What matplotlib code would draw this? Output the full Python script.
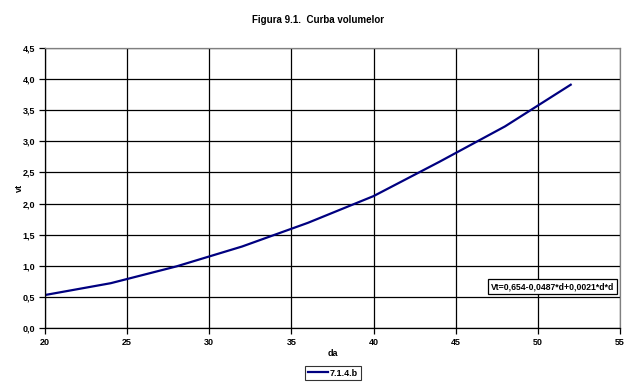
import matplotlib
matplotlib.use("Agg")
import matplotlib.pyplot as plt
from matplotlib.ticker import MultipleLocator, FuncFormatter

d_values = [20, 24, 28, 32, 36, 40, 44, 48, 52]
vt_values = [0.53, 0.72, 0.99, 1.31, 1.69, 2.12, 2.67, 3.24, 3.91]
series_label = "7.1.4.b"
title = "Figura 9.1.  Curba volumelor"
equation = "Vt=0,654-0,0487*d+0,0021*d*d"

plt.rcParams['font.family'] = ['Liberation Sans', 'DejaVu Sans']
plt.rcParams['font.weight'] = 'bold'

fig = plt.figure(figsize=(6.37, 3.9), dpi=100)
W, H = 637, 390
ax = fig.add_axes([45 / W, 1 - 328 / H, (620 - 45) / W, (328 - 48) / H])

ax.plot(d_values, vt_values, color='#000080', lw=1.6, label=series_label)
ax.set_xlim(20, 55)
ax.set_ylim(0, 4.5)
ax.xaxis.set_major_locator(MultipleLocator(5))
ax.yaxis.set_major_locator(MultipleLocator(0.5))
ax.yaxis.set_major_formatter(FuncFormatter(lambda v, p: f"{v:.1f}".replace('.', ',')))
ax.grid(True, color='black', lw=0.9)
ax.set_axisbelow(True)
for s in ['top', 'right']:
    ax.spines[s].set_color('#808080')
    ax.spines[s].set_linewidth(0.9)
for s in ['left', 'bottom']:
    ax.spines[s].set_color('black')
    ax.spines[s].set_linewidth(0.9)
ax.tick_params(direction='out', length=4, width=0.9, labelsize=6.5, pad=3)
for lab in ax.get_xticklabels() + ax.get_yticklabels():
    lab.set_fontweight('bold')

ax.set_xlabel('da', fontsize=6.5, fontweight='bold', labelpad=2)
ax.set_ylabel('vt', fontsize=6.5, fontweight='bold', labelpad=-1)
fig.text(0.5, 1 - 20 / H, title, ha='center', va='center', fontsize=7, fontweight='bold')

ax.text(50.9, 0.66, equation, fontsize=6.2, fontweight='bold', ha='center', va='center',
        bbox=dict(boxstyle='square,pad=0.35', fc='white', ec='black', lw=0.9))

leg = fig.legend(loc='center', bbox_to_anchor=(333 / W, 1 - 373 / H), fontsize=6.5,
                 frameon=True, fancybox=False, edgecolor='black', handlelength=2.2,
                 borderpad=0.3, handletextpad=0.2)
leg.get_frame().set_linewidth(0.8)

fig.savefig('out.png', dpi=100)
